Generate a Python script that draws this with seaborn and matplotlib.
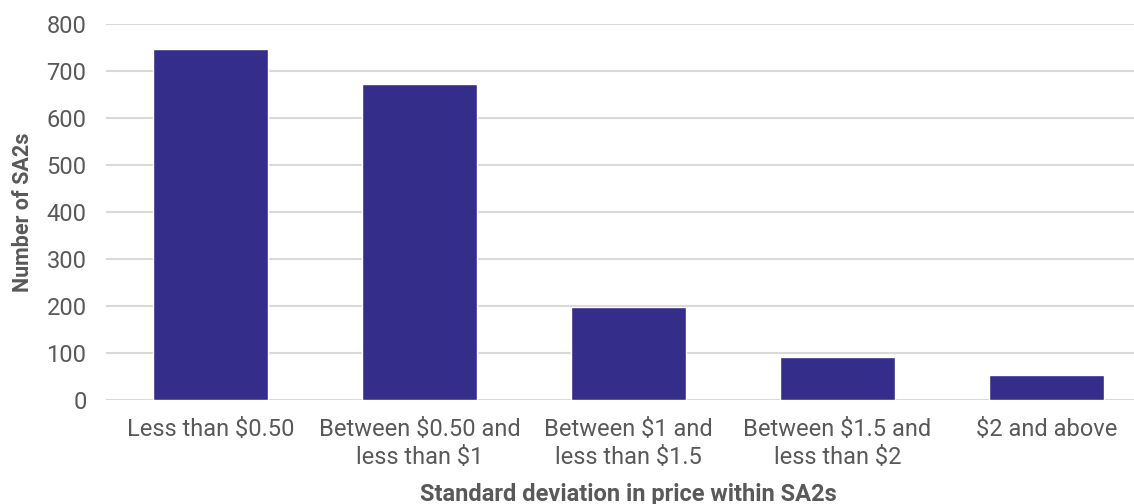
import matplotlib
matplotlib.use("Agg")
import matplotlib.pyplot as plt
import seaborn as sns
import pandas as pd

categories = ["Less than \\$0.50", "Between \\$0.50 and\nless than \\$1", "Between \\$1 and\nless than \\$1.5",
              "Between \\$1.5 and\nless than \\$2", "\\$2 and above"]
values = [747, 673, 198, 91, 53]
yticks = [0, 100, 200, 300, 400, 500, 600, 700, 800]

sns.set_theme(style="white")
plt.rcParams['font.family'] = ['Roboto', 'DejaVu Sans']

df = pd.DataFrame({"cat": categories, "val": values})
fig = plt.figure(figsize=(11.34, 5.04), dpi=100)
ax = fig.add_axes([106/1134, 104/504, 1045/1134, 376/504])
sns.barplot(data=df, x="cat", y="val", color="#352D8A", saturation=1, width=0.55, ax=ax, zorder=3)
ax.set_xlim(-0.5, 4.5)
ax.set_ylim(0, 800)
ax.set_yticks(yticks)
ax.yaxis.grid(True, color="#D9D9D9", linewidth=1.5, zorder=0)
ax.set_axisbelow(True)
for s in ax.spines.values():
    s.set_visible(False)
ax.tick_params(axis='both', length=0, labelsize=17, colors="#595959")
ax.tick_params(axis='y', pad=14)
ax.tick_params(axis='x', pad=13)
for lbl in ax.get_xticklabels():
    lbl.set_linespacing(1.3)
ax.set_xlabel("Standard deviation in price within SA2s", fontsize=17, fontweight='bold', color="#595959", labelpad=10)
ax.set_ylabel("Number of SA2s", fontsize=15.5, fontweight='bold', color="#595959", labelpad=9)
fig.savefig("out.png", dpi=100)
